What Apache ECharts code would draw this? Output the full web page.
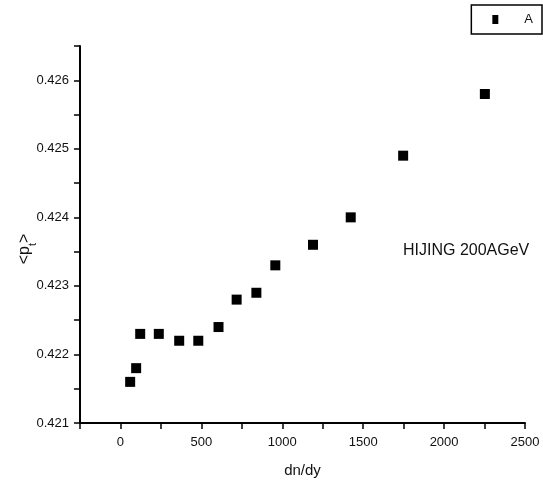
<!DOCTYPE html>
<html>
<head>
<meta charset="utf-8">
<script src="https://cdn.jsdelivr.net/npm/echarts@6/dist/echarts.min.js"></script>
<style>
  html, body { margin: 0; padding: 0; background: #fff; }
  #chart { width: 543px; height: 486px; }
</style>
</head>
<body>
<div id="chart"></div>
<script>
// dn/dy values and <pt>
const dndy = [60, 97, 122, 237, 363, 481, 606, 718, 840, 957, 1190, 1423, 1747, 2252];
const meanPt = [0.4216, 0.4218, 0.4223, 0.4223, 0.4222, 0.4222, 0.4224, 0.4228, 0.4229, 0.4233, 0.4236, 0.4240, 0.4249, 0.4258];
const seriesName = 'A';
const note = 'HIJING 200AGeV';

let points = [];
for (var i = 0; i < dndy.length; i++) {
  points.push([dndy[i], meanPt[i]]);
}

let myChart = echarts.init(document.getElementById('chart'));
const txt = '#111';
const font = 'Liberation Sans, Arial, sans-serif';

myChart.setOption({
  animation: false,
  grid: { left: 80, right: 18, top: 46, bottom: 63 },
  legend: {
    right: 1, top: 5,
    data: [seriesName],
    icon: 'rect',
    itemWidth: 6, itemHeight: 9,
    borderColor: '#000', borderWidth: 1.5, borderRadius: 0,
    padding: [8, 9, 8, 21],
    textStyle: { color: txt, fontSize: 13, fontFamily: font, padding: [0, 0, 0, 21] }
  },
  xAxis: {
    type: 'value',
    min: -250, max: 2500, interval: 250,
    name: 'dn/dy', nameLocation: 'middle', nameGap: 40,
    nameTextStyle: { color: txt, fontSize: 15, fontFamily: font },
    axisLine: { onZero: false, lineStyle: { color: '#000', width: 2 } },
    axisTick: { length: 6, lineStyle: { color: '#000', width: 1.5 } },
    axisLabel: {
      color: txt, fontSize: 13, fontFamily: font, margin: 13,
      formatter: function (v) { return (Math.round(v) % 500 === 0) ? String(Math.round(v)) : ''; }
    },
    splitLine: { show: false }
  },
  yAxis: {
    type: 'value',
    min: 0.421, max: 0.4265, interval: 0.0005,
    axisLine: { onZero: false, lineStyle: { color: '#000', width: 2 } },
    axisTick: { length: 6, lineStyle: { color: '#000', width: 1.5 } },
    axisLabel: {
      color: txt, fontSize: 13, fontFamily: font, margin: 11,
      formatter: function (v) {
        let k = Math.round(v * 10000);
        return (k % 10 === 0) ? (k / 10000).toFixed(3) : '';
      }
    },
    splitLine: { show: false }
  },
  graphic: [{
    type: 'text', x: 23, y: 249, rotation: Math.PI / 2,
    style: {
      text: '{a|<p}{b|t}{a|>}',
      align: 'center', verticalAlign: 'middle',
      rich: {
        a: { fill: txt, fontSize: 16, fontFamily: font, lineHeight: 20, verticalAlign: 'bottom' },
        b: { fill: txt, fontSize: 11, fontFamily: font, lineHeight: 20, verticalAlign: 'bottom', padding: [0, 0, -5, 0] }
      }
    }
  }, {
    type: 'text', left: 403, top: 243,
    style: { text: note, fill: txt, fontSize: 16, fontFamily: font }
  }],
  series: [{
    name: seriesName,
    type: 'scatter',
    symbol: 'rect',
    symbolSize: 10,
    itemStyle: { color: '#000', opacity: 1 },
    data: points
  }]
});
</script>
</body>
</html>
